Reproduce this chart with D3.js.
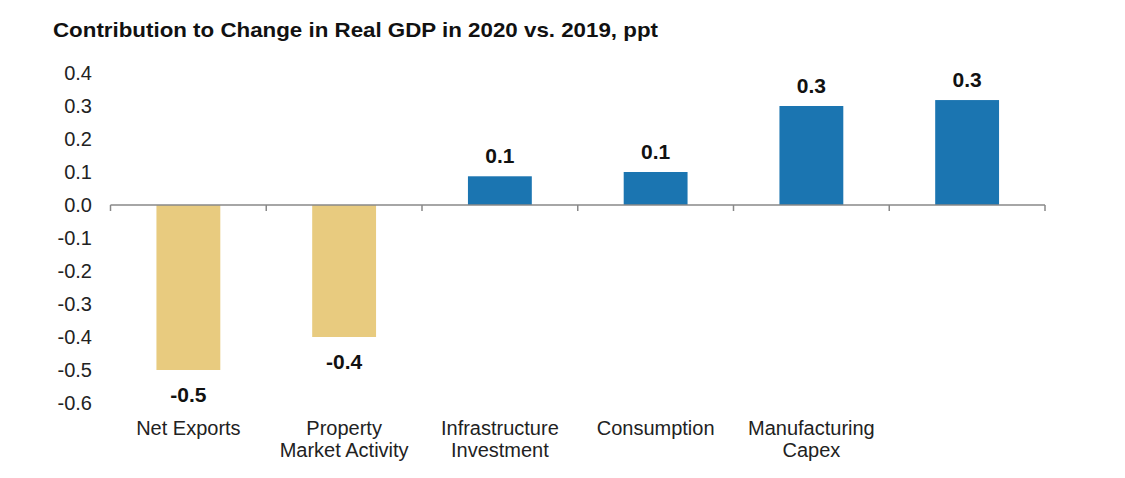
<!DOCTYPE html>
<html><head><meta charset="utf-8">
<script src="https://cdn.jsdelivr.net/npm/d3@7"></script>
<style>body{margin:0;background:#fff}svg{display:block}</style>
</head><body>
<script>
const categories = ["Net Exports", "Property\nMarket Activity", "Infrastructure\nInvestment", "Consumption", "Manufacturing\nCapex", ""];
const values = [-0.5, -0.4, 0.087, 0.1, 0.3, 0.318];
const valueLabels = ["-0.5", "-0.4", "0.1", "0.1", "0.3", "0.3"];
const yTicks = [0.4, 0.3, 0.2, 0.1, 0.0, -0.1, -0.2, -0.3, -0.4, -0.5, -0.6];
const title = "Contribution to Change in Real GDP in 2020 vs. 2019, ppt";

const W = 1125, H = 478;
const svg = d3.select("body").append("svg").attr("width", W).attr("height", H);
const font = "'Liberation Sans', Arial, sans-serif";

svg.append("text").attr("x", 53).attr("y", 37)
  .attr("font-family", font).attr("font-weight", "bold").attr("font-size", 21)
  .attr("textLength", 605).attr("lengthAdjust", "spacingAndGlyphs")
  .attr("fill", "#111").text(title);

const x = d3.scaleBand().domain(d3.range(categories.length)).range([110.5, 1045]).padding(0);
const y = d3.scaleLinear().domain([-0.6, 0.4]).range([403, 73]);

// y labels
svg.append("g").selectAll("text").data(yTicks).join("text")
  .attr("x", 92).attr("y", d => y(d)).attr("dy", "0.36em")
  .attr("text-anchor", "end").attr("font-family", font).attr("font-size", 20)
  .attr("fill", "#222").text(d => d.toFixed(1));

// bars
const bw = x.bandwidth() * 0.41;
svg.append("g").selectAll("rect").data(values).join("rect")
  .attr("x", (d, i) => x(i) + x.bandwidth() / 2 - bw / 2)
  .attr("width", bw)
  .attr("y", d => y(Math.max(0, d)))
  .attr("height", d => Math.abs(y(d) - y(0)))
  .attr("fill", d => d < 0 ? "#E8CB7F" : "#1B75B1");

// zero axis
const ax = svg.append("g").attr("stroke", "#888").attr("stroke-width", 1.5);
ax.append("line").attr("x1", x.range()[0]).attr("x2", x.range()[1]).attr("y1", y(0)).attr("y2", y(0));
ax.selectAll("line.t").data(d3.range(categories.length + 1)).join("line").attr("class", "t")
  .attr("x1", i => x.range()[0] + i * x.step()).attr("x2", i => x.range()[0] + i * x.step())
  .attr("y1", y(0)).attr("y2", y(0) + 6);

// value labels
svg.append("g").selectAll("text").data(values).join("text")
  .attr("x", (d, i) => x(i) + x.bandwidth() / 2)
  .attr("y", d => d < 0 ? y(d) + 32 : y(d) - 13)
  .attr("text-anchor", "middle").attr("font-family", font).attr("font-weight", "bold")
  .attr("font-size", 21).attr("fill", "#111").text((d, i) => valueLabels[i]);

// category labels
const cl = svg.append("g").selectAll("text").data(categories).join("text")
  .attr("x", (d, i) => x(i) + x.bandwidth() / 2)
  .attr("y", 435)
  .attr("text-anchor", "middle").attr("font-family", font).attr("font-size", 20).attr("fill", "#222");
cl.each(function(d) {
  const lines = d.split("\n");
  d3.select(this).selectAll("tspan").data(lines).join("tspan")
    .attr("x", d3.select(this).attr("x")).attr("dy", (l, j) => j === 0 ? 0 : 22).text(l => l);
});
</script>
</body></html>
